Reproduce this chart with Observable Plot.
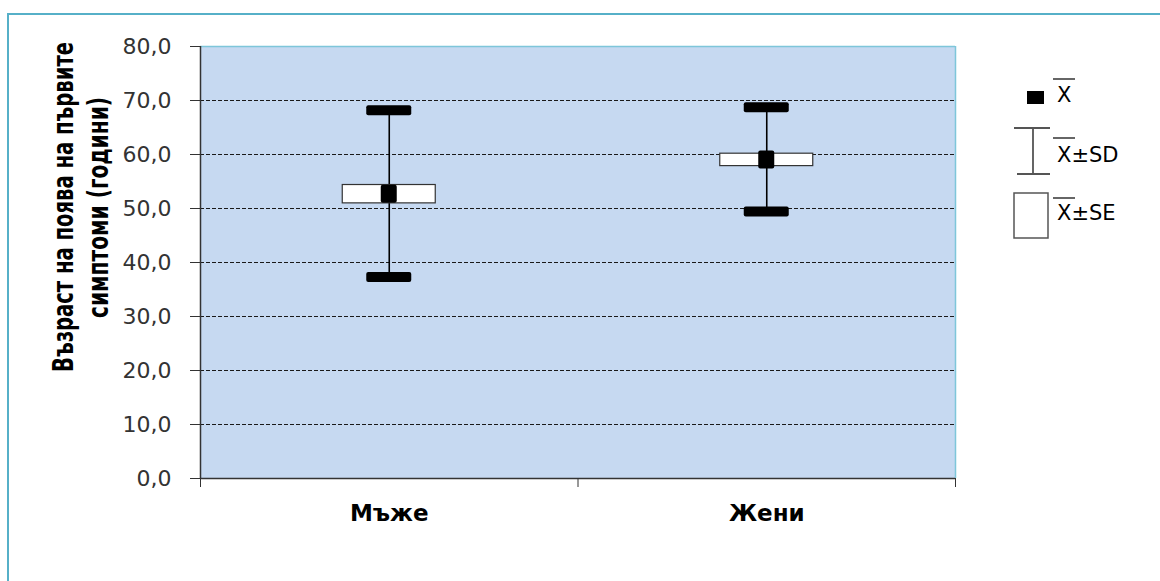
<!DOCTYPE html>
<html><head><meta charset="utf-8">
<script src="https://cdn.jsdelivr.net/npm/d3@7"></script>
<script src="https://cdn.jsdelivr.net/npm/@observablehq/plot@0.6"></script>
<style>
html,body{margin:0;padding:0;overflow:hidden;background:#fff;width:1160px;height:581px}
#wrap{position:relative;width:1160px;height:581px}
#chart svg{display:block}
#overlay{position:absolute;left:0;top:0;pointer-events:none}
#border{position:absolute;left:7px;top:13px;width:1170px;height:620px;border:2px solid #56b0c8;pointer-events:none}
</style></head><body>
<div id="wrap"><div id="chart"></div><svg id="overlay" width="1160" height="581"></svg><div id="border"></div></div>
<script>
const categories = ["Мъже", "Жени"];
const means = [52.65, 59.0];
const sds = [15.45, 9.65];
const ses = [1.7, 1.15];
const yTicks = [0, 10, 20, 30, 40, 50, 60, 70, 80];
const gridValues = [10, 20, 30, 40, 50, 60, 70];
const legendLabels = ["X", "X±SD", "X±SE"];
const yTitleLines = ["Възраст на поява на първите", "симптоми (години)"];

const data = categories.map((c, i) => ({
  cat: c, pos: i + 0.5, mean: means[i],
  lo: means[i] - sds[i], hi: means[i] + sds[i],
  seLo: means[i] - ses[i], seHi: means[i] + ses[i]
}));
const fmt = d => d.toFixed(1).replace(".", ",");

const chart = Plot.plot({
  width: 1160, height: 581,
  marginLeft: 200, marginRight: 205, marginTop: 46, marginBottom: 103,
  style: {fontFamily: "'DejaVu Sans', sans-serif", background: "transparent", overflow: "visible"},
  x: {domain: [0, categories.length], label: null},
  y: {domain: [0, 80], label: null},
  marks: [
    Plot.frame({fill: "#c6d9f1", stroke: null}),
    Plot.ruleY(gridValues, {stroke: "#1a1a1a", strokeDasharray: "4,2", strokeWidth: 1}),
    Plot.ruleY([80], {stroke: "#7ec6da", strokeWidth: 1.5}),
    Plot.ruleX([categories.length], {stroke: "#7ec6da", strokeWidth: 1.5}),
    Plot.ruleX([0], {stroke: "#333", strokeWidth: 1.5}),
    Plot.ruleY([0], {stroke: "#333", strokeWidth: 1.5}),
    Plot.axisY({ticks: yTicks, tickSize: 10, tickPadding: 19, tickFormat: fmt, fontSize: 22, color: "#333"}),
    Plot.axisX({ticks: d3.range(categories.length + 1), tickSize: 9, tickFormat: () => "", color: "#333"}),
    Plot.axisX({ticks: data.map(d => d.pos), tickSize: 0, tickPadding: 26,
      tickFormat: d => categories[Math.floor(d)], fontSize: 23, fontWeight: "bold", color: "#000"}),
    Plot.ruleX(data, {x: "pos", y1: "lo", y2: "hi", stroke: "#000", strokeWidth: 1.6}),
    Plot.rect(data, {x1: "pos", x2: "pos", y1: "hi", y2: "hi", insetLeft: -22.5, insetRight: -22.5, insetTop: -5, insetBottom: -5, fill: "#000", rx: 2}),
    Plot.rect(data, {x1: "pos", x2: "pos", y1: "lo", y2: "lo", insetLeft: -22.5, insetRight: -22.5, insetTop: -5, insetBottom: -5, fill: "#000", rx: 2}),
    Plot.rect(data, {x1: "pos", x2: "pos", y1: "seLo", y2: "seHi", insetLeft: -46.5, insetRight: -46.5, fill: "#fff", stroke: "#333", strokeWidth: 1.2}),
    Plot.rect(data, {x1: "pos", x2: "pos", y1: "mean", y2: "mean", insetLeft: -8, insetRight: -8, insetTop: -9, insetBottom: -9, fill: "#000", rx: 2})
  ]
});
document.getElementById("chart").appendChild(chart);

// overlay: y title + legend
const ov = d3.select("#overlay");
const titleFont = "'DejaVu Sans', sans-serif";
const tl = [{x: 73, y: 207, len: 330}, {x: 108, y: 207.5, len: 221}];
yTitleLines.forEach((t, i) => {
  ov.append("text")
    .attr("transform", `translate(${tl[i].x},${tl[i].y}) rotate(-90) scale(1,1.45)`)
    .attr("text-anchor", "middle")
    .attr("font-family", titleFont).attr("font-weight", "bold").attr("font-size", 19.4)
    .attr("textLength", tl[i].len).attr("lengthAdjust", "spacingAndGlyphs")
    .attr("fill", "#000").text(t);
});
// legend icons
ov.append("rect").attr("x", 1027).attr("y", 91).attr("width", 17).attr("height", 13).attr("fill", "#000");
ov.append("line").attr("x1", 1033).attr("x2", 1033).attr("y1", 128).attr("y2", 174).attr("stroke", "#555").attr("stroke-width", 1.8);
ov.append("line").attr("x1", 1014).attr("x2", 1050).attr("y1", 128).attr("y2", 128).attr("stroke", "#555").attr("stroke-width", 1.8);
ov.append("line").attr("x1", 1017).attr("x2", 1050).attr("y1", 174).attr("y2", 174).attr("stroke", "#555").attr("stroke-width", 1.8);
ov.append("rect").attr("x", 1014).attr("y", 193).attr("width", 34).attr("height", 45).attr("fill", "#fff").attr("stroke", "#555").attr("stroke-width", 1.5);
const leg = [{y: 102, ol: 79, size: 21}, {y: 162, ol: 138, size: 21}, {y: 220, ol: 198, size: 21}];
legendLabels.forEach((t, i) => {
  ov.append("text").attr("x", 1057).attr("y", leg[i].y)
    .attr("font-family", titleFont).attr("font-size", leg[i].size).attr("fill", "#000").text(t);
  ov.append("line").attr("x1", 1053).attr("x2", 1075).attr("y1", leg[i].ol).attr("y2", leg[i].ol)
    .attr("stroke", "#333").attr("stroke-width", 1.5);
});
</script>
</body></html>
